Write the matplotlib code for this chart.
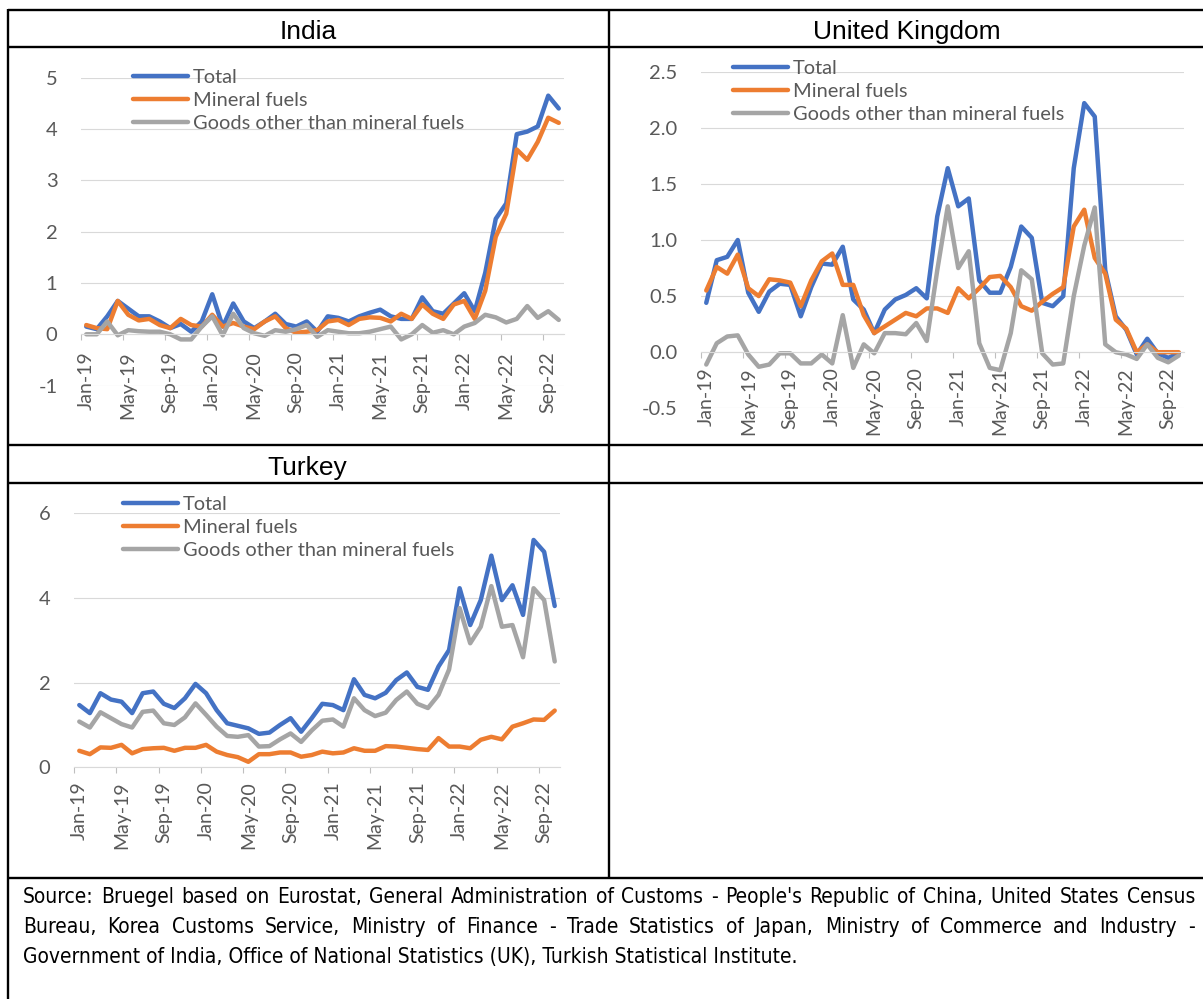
import numpy as np
import pandas as pd
import matplotlib
matplotlib.use('Agg')
import matplotlib.pyplot as plt
from matplotlib import font_manager

W, H = 1203, 999

months = pd.date_range('2019-01-01', periods=46, freq='MS')
month_labels = [m.strftime('%b-%y') for m in months]

series_names = ['Total', 'Mineral fuels', 'Goods other than mineral fuels']
colors = ['#4472C4', '#ED7D31', '#A5A5A5']

india_total = [0.15, 0.1, 0.35, 0.65, 0.5, 0.35, 0.35, 0.25, 0.12, 0.2,
               0.05, 0.25, 0.78, 0.15, 0.6, 0.25, 0.12, 0.25, 0.4, 0.2,
               0.15, 0.25, 0.05, 0.35, 0.32, 0.25, 0.35, 0.42, 0.48, 0.35,
               0.3, 0.3, 0.72, 0.45, 0.4, 0.6, 0.8, 0.45, 1.2, 2.25,
               2.55, 3.9, 3.95, 4.05, 4.65, 4.4]
india_fuels = [0.18, 0.12, 0.1, 0.65, 0.38, 0.27, 0.3, 0.18, 0.12, 0.3,
               0.18, 0.15, 0.38, 0.15, 0.22, 0.15, 0.1, 0.25, 0.35, 0.12,
               0.03, 0.05, 0.08, 0.25, 0.28, 0.18, 0.3, 0.33, 0.32, 0.25,
               0.4, 0.3, 0.58, 0.4, 0.3, 0.58, 0.65, 0.3, 0.85, 1.9,
               2.35, 3.6, 3.4, 3.75, 4.22, 4.12]
india_other = [0.0, 0.0, 0.25, -0.02, 0.08, 0.06, 0.05, 0.05, 0.0, -0.1,
               -0.1, 0.15, 0.35, -0.02, 0.4, 0.12, 0.02, -0.03, 0.08, 0.05,
               0.1, 0.18, -0.05, 0.08, 0.05, 0.02, 0.02, 0.05, 0.1, 0.15,
               -0.1, 0.0, 0.18, 0.03, 0.08, 0.0, 0.15, 0.22, 0.38, 0.33,
               0.23, 0.3, 0.55, 0.32, 0.45, 0.28]

uk_total = [0.44, 0.82, 0.85, 1.0, 0.53, 0.36, 0.54, 0.61, 0.6, 0.32,
            0.58, 0.79, 0.78, 0.94, 0.47, 0.38, 0.17, 0.38, 0.47, 0.51,
            0.57, 0.48, 1.21, 1.64, 1.3, 1.37, 0.64, 0.53, 0.53, 0.76,
            1.12, 1.02, 0.44, 0.41, 0.5, 1.64, 2.22, 2.1, 0.73, 0.32,
            0.2, -0.02, 0.12, -0.01, -0.05, -0.01]
uk_fuels = [0.55, 0.76, 0.7, 0.87, 0.57, 0.5, 0.65, 0.64, 0.62, 0.41,
            0.64, 0.81, 0.88, 0.6, 0.6, 0.33, 0.17, 0.23, 0.29, 0.35,
            0.32, 0.39, 0.39, 0.35, 0.57, 0.48, 0.57, 0.67, 0.68, 0.58,
            0.41, 0.37, 0.45, 0.52, 0.58, 1.12, 1.27, 0.84, 0.7, 0.29,
            0.21, 0.0, 0.07, 0.0, 0.0, 0.0]
uk_other = [-0.11, 0.08, 0.14, 0.15, -0.02, -0.13, -0.11, -0.01, -0.01, -0.1,
            -0.1, -0.02, -0.1, 0.33, -0.14, 0.07, -0.01, 0.17, 0.17, 0.16,
            0.26, 0.1, 0.73, 1.3, 0.75, 0.9, 0.08, -0.14, -0.16, 0.17,
            0.73, 0.65, -0.01, -0.11, -0.1, 0.5, 0.95, 1.29, 0.07, 0.0,
            -0.02, -0.06, 0.07, -0.05, -0.09, -0.03]

turkey_total = [1.47, 1.28, 1.75, 1.6, 1.55, 1.28, 1.75, 1.79, 1.5, 1.4,
                1.63, 1.97, 1.75, 1.35, 1.04, 0.98, 0.92, 0.79, 0.82, 1.0,
                1.16, 0.84, 1.16, 1.5, 1.47, 1.35, 2.08, 1.71, 1.63, 1.76,
                2.06, 2.24, 1.9, 1.83, 2.38, 2.77, 4.23, 3.36, 3.95, 5.0,
                3.95, 4.3, 3.6, 5.37, 5.09, 3.81]
turkey_fuels = [0.39, 0.31, 0.47, 0.46, 0.53, 0.33, 0.43, 0.45, 0.46, 0.39,
                0.46, 0.46, 0.53, 0.37, 0.29, 0.24, 0.13, 0.31, 0.31, 0.35,
                0.35, 0.25, 0.29, 0.37, 0.33, 0.35, 0.45, 0.39, 0.39, 0.5,
                0.49, 0.46, 0.43, 0.41, 0.69, 0.49, 0.49, 0.45, 0.65, 0.72,
                0.66, 0.96, 1.04, 1.13, 1.12, 1.34]
turkey_other = [1.08, 0.94, 1.3, 1.16, 1.02, 0.94, 1.31, 1.34, 1.04, 1.0,
                1.18, 1.51, 1.24, 0.96, 0.74, 0.72, 0.76, 0.49, 0.5, 0.66,
                0.8, 0.6, 0.87, 1.1, 1.13, 0.96, 1.63, 1.35, 1.21, 1.29,
                1.59, 1.79, 1.5, 1.4, 1.71, 2.31, 3.76, 2.93, 3.32, 4.28,
                3.32, 3.36, 2.6, 4.23, 3.95, 2.5]

source_lines = [
    "Source: Bruegel based on Eurostat, General Administration of Customs - People's Republic of China, United States Census",
    "Bureau, Korea Customs Service, Ministry of Finance - Trade Statistics of Japan, Ministry of Commerce and Industry -",
    "Government of India, Office of National Statistics (UK), Turkish Statistical Institute.",
]

plt.rcParams['axes.unicode_minus'] = False
chart_font = ['Lato', 'DejaVu Sans']
title_font = ['Liberation Sans', 'DejaVu Sans']

# the note is set in a condensed face; use one if the system has it
note_family, note_stretch = 'Lato', 'normal'
for f in font_manager.fontManager.ttflist:
    if f.stretch in ('condensed', 'semi-condensed') and f.style == 'normal' and f.weight in (400, 'normal', 'regular'):
        note_family, note_stretch = f.name, f.stretch
        break

fig = plt.figure(figsize=(W / 100, H / 100), dpi=100)

# background axes in pixel units for the table grid and texts
bg = fig.add_axes([0, 0, 1, 1])
bg.set_xlim(0, W)
bg.set_ylim(H, 0)
bg.axis('off')

for y in [10, 47, 445, 483, 878]:
    bg.plot([8, W], [y, y], color='black', lw=1.7, solid_capstyle='butt')
bg.plot([8, 8], [9, H], color='black', lw=1.7, solid_capstyle='butt')
bg.plot([609, 609], [9, 879], color='black', lw=1.7, solid_capstyle='butt')

bg.text(308, 39, 'India', fontsize=19, family=title_font, ha='center', va='baseline')
bg.text(907, 39, 'United Kingdom', fontsize=19, family=title_font, ha='center', va='baseline')
bg.text(307, 475, 'Turkey', fontsize=19, family=title_font, ha='center', va='baseline')


def px_axes(x0, x1, ytop, ybot):
    return fig.add_axes([x0 / W, 1 - ybot / H, (x1 - x0) / W, (ybot - ytop) / H])


def panel(rect, ylim, yticks, fmt, data, leg_xy, xpad):
    ax = px_axes(*rect)
    ax.set_facecolor('none')
    x = np.arange(len(months))
    for vals, col, name in zip(data, colors, series_names):
        ax.plot(x, vals, color=col, lw=3.2, label=name,
                solid_capstyle='round', solid_joinstyle='round')
    ax.set_xlim(-0.5, len(months) - 0.5)
    ax.set_ylim(*ylim)
    ax.set_yticks(yticks)
    ax.set_yticklabels([fmt.format(v) for v in yticks], family=chart_font)
    ax.grid(axis='y', color='#D9D9D9', lw=0.8)
    ax.set_axisbelow(True)
    for s in ['top', 'right', 'left']:
        ax.spines[s].set_visible(False)
    ax.spines['bottom'].set_position(('data', 0))
    ax.spines['bottom'].set_color('#D9D9D9')
    ax.spines['bottom'].set_linewidth(0.8)
    ax.set_xticks(x[::4])
    ax.set_xticklabels(month_labels[::4], rotation=90, family=chart_font)
    ax.set_xticks(x[::4] - 0.5, minor=True)
    ax.tick_params(axis='x', which='major', length=0, pad=xpad,
                   labelsize=14, labelcolor='#595959')
    ax.tick_params(axis='x', which='minor', length=4, color='#BFBFBF', width=0.8)
    ax.tick_params(axis='y', length=0, pad=17, labelsize=14.5, labelcolor='#595959')
    leg = ax.legend(loc='upper left', bbox_to_anchor=leg_xy, bbox_transform=bg.transData,
                    frameon=False, handlelength=2.75, handletextpad=0.25,
                    labelspacing=0.3, borderpad=0, borderaxespad=0,
                    prop={'family': chart_font, 'size': 14.4})
    for t in leg.get_texts():
        t.set_color('#595959')
    return ax


panel((81, 564, 77.7, 385.6), (-1, 5), [-1, 0, 1, 2, 3, 4, 5], '{:.0f}',
      [india_total, india_fuels, india_other], (133, 69), 12)
panel((701, 1184, 71.7, 408.3), (-0.5, 2.5), [-0.5, 0, 0.5, 1, 1.5, 2, 2.5], '{:.1f}',
      [uk_total, uk_fuels, uk_other], (733, 60), 11)
panel((74, 560, 513.3, 767.3), (0, 6), [0, 2, 4, 6], '{:.0f}',
      [turkey_total, turkey_fuels, turkey_other], (123, 496), 10)

# source note: size chosen so that the start of the last line spans the same
# width as in the original; the first two lines are justified to the cell
renderer = fig.canvas.get_renderer()
note_kw = dict(family=note_family, fontstretch=note_stretch, va='baseline')
probe = bg.text(23, 963, 'Government of India, Office o', fontsize=17, **note_kw)
note_size = 17 * 277 / probe.get_window_extent(renderer).width
probe.remove()
bg.text(23, 963, source_lines[2], fontsize=note_size, **note_kw)
for line, yb in zip(source_lines[:2], [903, 933]):
    words = line.split(' ')
    arts = [bg.text(0, yb, w, fontsize=note_size, **note_kw) for w in words]
    widths = [a.get_window_extent(renderer).width for a in arts]
    gap = (1195 - 23 - sum(widths)) / (len(words) - 1)
    xpos = 23
    for a, w in zip(arts, widths):
        a.set_x(xpos)
        xpos += w + gap

fig.savefig('out.png', dpi=100)
